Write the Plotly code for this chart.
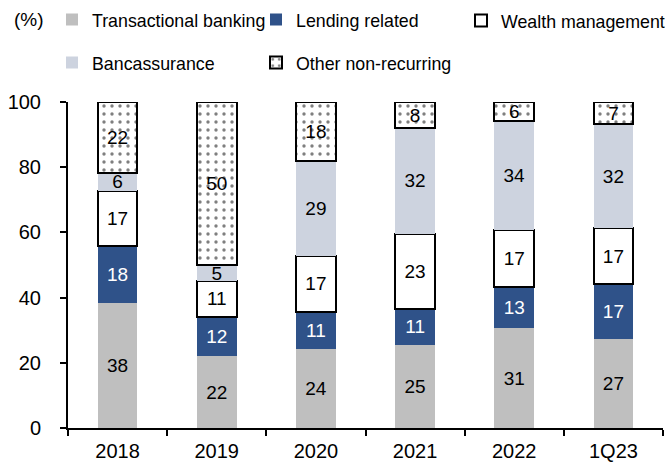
import plotly.graph_objects as go

categories = ["2018", "2019", "2020", "2021", "2022", "1Q23"]
transactional = [38.3, 22.0, 24.3, 25.4, 30.6, 27.3]
lending = [17.6, 12.2, 11.3, 11.2, 12.7, 16.8]
wealth = [16.8, 10.8, 17.2, 23.0, 17.3, 17.3]
bancassurance = [5.6, 5.0, 29.2, 32.4, 33.7, 31.8]
other = [21.7, 50.0, 18.0, 8.0, 5.7, 6.8]

transactional_lbl = ["38", "22", "24", "25", "31", "27"]
lending_lbl = ["18", "12", "11", "11", "13", "17"]
wealth_lbl = ["17", "11", "17", "23", "17", "17"]
bancassurance_lbl = ["6", "5", "29", "32", "34", "32"]
other_lbl = ["22", "50", "18", "8", "6", "7"]

FONT = "Liberation Sans, Arial, sans-serif"
LBL = 19
W, H = 669, 466
ML, MR, MT, MB = 68, 6, 102, 38
PW, PH = W - ML - MR, H - MT - MB

fig = go.Figure()

def add(name, vals, lbls, color, txtcolor, line_w=0, pattern=None, legend="legend"):
    marker = dict(color=color, line=dict(color="black", width=line_w))
    if pattern:
        marker["pattern"] = pattern
    fig.add_trace(go.Bar(
        name=name, x=categories, y=vals, text=lbls,
        textposition="inside", insidetextanchor="middle", textangle=0,
        textfont=dict(color=txtcolor, size=LBL, family=FONT),
        marker=marker, width=0.4, legend=legend,
        hoverinfo="skip",
    ))

add("Transactional banking", transactional, transactional_lbl, "#BFBFBF", "black")
add("Lending related", lending, lending_lbl, "#2F5289", "white")
add("Wealth management", wealth, wealth_lbl, "white", "black", line_w=2, legend="legend3")
add("Bancassurance", bancassurance, bancassurance_lbl, "#CDD3DF", "black", legend="legend2")
add("Other non-recurring", other, other_lbl, "white", "black", line_w=2,
    pattern=dict(shape=".", fgcolor="black", bgcolor="white", size=8, solidity=0.14),
    legend="legend2")

legend_common = dict(
    orientation="h", xref="container", yref="container",
    xanchor="left", yanchor="middle",
    font=dict(size=17.8, family=FONT, color="black"),
    entrywidth=159, itemwidth=30, bgcolor="rgba(0,0,0,0)",
    traceorder="normal",
)

fig.update_layout(
    width=W, height=H,
    margin=dict(l=ML, r=MR, t=MT, b=MB, autoexpand=False),
    paper_bgcolor="white", plot_bgcolor="white",
    barmode="stack", bargap=0.6,
    font=dict(family=FONT, size=20, color="black"),
    uniformtext=dict(minsize=LBL, mode="show"),
    showlegend=True,
    legend=dict(x=52 / W, y=1 - 20 / H, **legend_common),
    legend2=dict(x=52 / W, y=1 - 63 / H, **legend_common),
    legend3=dict(x=461 / W, y=1 - 21 / H, **legend_common),
    xaxis=dict(
        showline=True, linecolor="black", linewidth=2,
        ticks="outside", tickson="boundaries", ticklen=6, tickwidth=2, tickcolor="black",
        tickfont=dict(size=20, family=FONT),
        ticklabelstandoff=4,
        showgrid=False,
    ),
    yaxis=dict(
        range=[0, 100], tickvals=[0, 20, 40, 60, 80, 100],
        showline=True, linecolor="black", linewidth=2,
        ticks="outside", ticklen=6, tickwidth=2, tickcolor="black",
        tickfont=dict(size=20, family=FONT),
        ticklabelstandoff=15,
        showgrid=False, zeroline=False,
    ),
    annotations=[dict(
        text="(%)", xref="paper", yref="paper",
        x=(12 - ML) / PW, y=(H - 20 - MB) / PH, xanchor="left", yanchor="middle",
        showarrow=False, font=dict(size=19, family=FONT, color="black"),
    )],
)

fig.write_html("out.html", config={"displayModeBar": False},
               post_script="document.body.style.margin='0';")
